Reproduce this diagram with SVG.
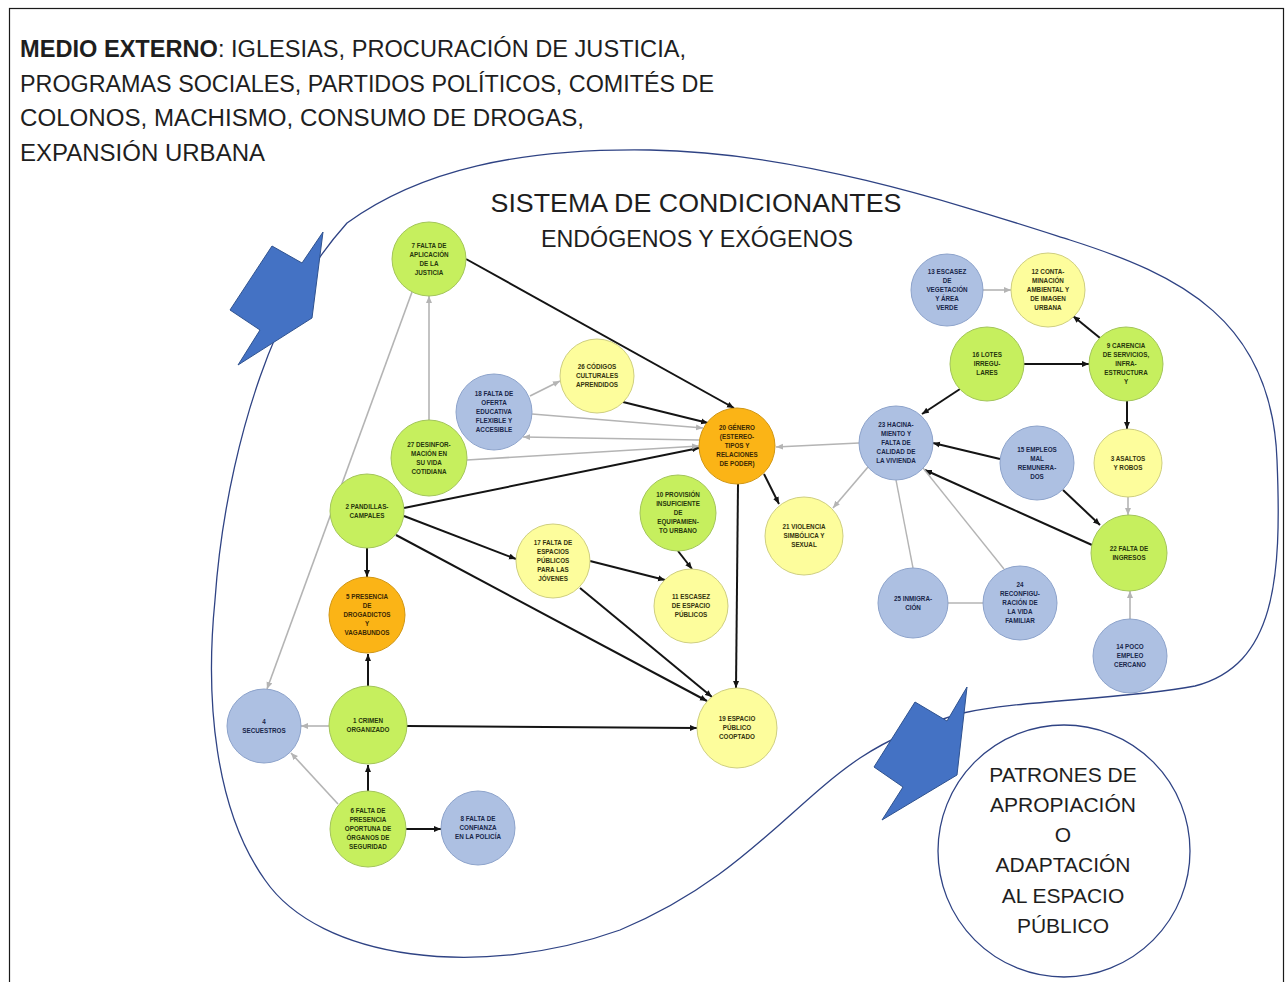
<svg xmlns="http://www.w3.org/2000/svg" width="1287" height="982" viewBox="0 0 1287 982">
<style>
.frame{fill:none;stroke:#1a1a1a;stroke-width:1.2}
.blob{fill:none;stroke:#2f4384;stroke-width:1.3}
.arrowshape{fill:#4472c4;stroke:#2f528f;stroke-width:1}
.big{font-family:"Liberation Sans",Arial,sans-serif;fill:#1e1e1e}
.n circle{stroke-width:1}
.g circle{fill:#c6ef5e;stroke:#a3c55a}
.b circle{fill:#adc0e2;stroke:#8da3cb}
.y circle{fill:#fdfd9c;stroke:#cfcf80}
.o circle{fill:#fbb416;stroke:#d19612}
.n text{font-family:"Liberation Sans",Arial,sans-serif;font-weight:bold;font-size:6.3px;text-anchor:middle}
.g text{fill:#26360c}
.b text{fill:#18264a}
.y text{fill:#34340e}
.o text{fill:#3a2804}
.k{stroke:#141414;stroke-width:2;fill:none;marker-end:url(#ak)}
.s{stroke:#b4b4b4;stroke-width:1.6;fill:none;marker-end:url(#as)}
.sp{stroke:#b4b4b4;stroke-width:1.4;fill:none}
</style>
<defs>
<marker id="ak" markerUnits="userSpaceOnUse" markerWidth="8" markerHeight="7" refX="7" refY="3.5" orient="auto"><path d="M0,0.5 L7,3.5 L0,6.5 z" fill="#141414"/></marker>
<marker id="as" markerUnits="userSpaceOnUse" markerWidth="8" markerHeight="7" refX="7" refY="3.5" orient="auto"><path d="M0,0.5 L7,3.5 L0,6.5 z" fill="#b4b4b4"/></marker>
</defs>
<rect x="0" y="0" width="1287" height="982" fill="#ffffff"/>
<rect class="frame" x="9.5" y="8.5" width="1274" height="990"/>
<g id="header">
<text class="big" x="20" y="57" font-size="23" textLength="666" lengthAdjust="spacingAndGlyphs"><tspan font-weight="bold">MEDIO EXTERNO</tspan>: IGLESIAS, PROCURACIÓN DE JUSTICIA,</text>
<text class="big" x="20" y="92" font-size="23" textLength="694" lengthAdjust="spacingAndGlyphs">PROGRAMAS SOCIALES, PARTIDOS POLÍTICOS, COMITÉS DE</text>
<text class="big" x="20" y="126" font-size="23" textLength="564" lengthAdjust="spacingAndGlyphs">COLONOS, MACHISMO, CONSUMO DE DROGAS,</text>
<text class="big" x="20" y="161" font-size="23" textLength="245" lengthAdjust="spacingAndGlyphs">EXPANSIÓN URBANA</text>
</g>
<path class="blob" d="M 347 223 C 420 170, 520 148, 650 150 C 800 152, 960 205, 1070 240 C 1180 275, 1272 320, 1277 460 C 1282 580, 1275 665, 1195 686 C 1120 700, 1020 700, 963 713 C 930 722, 895 735, 860 758 C 790 805, 740 880, 620 930 C 480 980, 320 960, 265 880 C 215 810, 205 700, 215 600 C 222 500, 245 420, 260 377 C 280 320, 305 270, 347 223 Z"/>
<g id="system-title">
<text class="big" x="696" y="212" font-size="26" text-anchor="middle" textLength="411" lengthAdjust="spacingAndGlyphs">SISTEMA DE CONDICIONANTES</text>
<text class="big" x="697" y="247" font-size="23" text-anchor="middle" textLength="312" lengthAdjust="spacingAndGlyphs">ENDÓGENOS Y EXÓGENOS</text>
</g>
<polygon class="arrowshape" points="323,232 312,318 238,365 260,330 230,310 272,246 302,263"/>
<polygon class="arrowshape" points="967,687 957,775 882,820 903,787 874,767 915,702 947,721"/>
<g id="patrones">
<circle cx="1064" cy="851" r="126" fill="#ffffff" stroke="#2f4384" stroke-width="1.3"/>
<text class="big" font-size="21" text-anchor="middle"><tspan x="1063" y="782">PATRONES DE</tspan><tspan x="1063" y="812">APROPIACIÓN</tspan><tspan x="1063" y="842">O</tspan><tspan x="1063" y="872">ADAPTACIÓN</tspan><tspan x="1063" y="903">AL ESPACIO</tspan><tspan x="1063" y="933">PÚBLICO</tspan></text>
</g>
<g id="connectors">
<line class="k" x1="466" y1="259" x2="734" y2="408"/>
<line class="k" x1="623" y1="402" x2="708" y2="423"/>
<line class="k" x1="404" y1="508" x2="699" y2="448"/>
<line class="k" x1="367" y1="548" x2="367" y2="577"/>
<line class="k" x1="404" y1="516" x2="516" y2="559"/>
<line class="k" x1="396" y1="535" x2="707" y2="701"/>
<line class="k" x1="580" y1="588" x2="712" y2="697"/>
<line class="k" x1="738" y1="484" x2="736" y2="688"/>
<line class="k" x1="764" y1="474" x2="779" y2="504"/>
<line class="k" x1="590" y1="561" x2="665" y2="580"/>
<line class="k" x1="678" y1="551" x2="692" y2="569"/>
<line class="k" x1="368" y1="686" x2="368" y2="654"/>
<line class="k" x1="407" y1="726" x2="697" y2="728"/>
<line class="k" x1="368" y1="791" x2="368" y2="765"/>
<line class="k" x1="406" y1="829" x2="441" y2="829"/>
<line class="k" x1="960" y1="389" x2="922" y2="414"/>
<line class="k" x1="1024" y1="364" x2="1089" y2="364"/>
<line class="k" x1="1100" y1="338" x2="1073" y2="316"/>
<line class="k" x1="1127" y1="401" x2="1127" y2="429"/>
<line class="k" x1="1000" y1="459" x2="933" y2="443"/>
<line class="k" x1="1063" y1="490" x2="1100" y2="525"/>
<line class="k" x1="1092" y1="545" x2="925" y2="470"/>
<line class="s" x1="429" y1="420" x2="429" y2="296"/>
<line class="s" x1="530" y1="396" x2="560" y2="381"/>
<line class="s" x1="532" y1="414" x2="703" y2="428"/>
<line class="s" x1="699" y1="440" x2="523" y2="437"/>
<line class="s" x1="467" y1="460" x2="699" y2="446"/>
<line class="s" x1="412" y1="292" x2="267" y2="689"/>
<line class="s" x1="329" y1="726" x2="301" y2="726"/>
<line class="s" x1="338" y1="804" x2="291" y2="753"/>
<line class="s" x1="983" y1="290" x2="1011" y2="290"/>
<line class="s" x1="859" y1="443" x2="776" y2="447"/>
<line class="s" x1="868" y1="467" x2="833" y2="508"/>
<line class="sp" x1="913" y1="568" x2="896" y2="480"/>
<line class="sp" x1="1004" y1="569" x2="923" y2="468"/>
<line class="sp" x1="948" y1="603" x2="983" y2="603"/>
<line class="s" x1="1130" y1="619" x2="1130" y2="591"/>
<line class="s" x1="1128" y1="497" x2="1128" y2="515"/>
</g>
<g id="n1" class="n g"><circle cx="368" cy="725" r="39"/><text><tspan x="368" y="722.7">1 CRIMEN</tspan><tspan x="368" y="731.7">ORGANIZADO</tspan></text></g>
<g id="n2" class="n g"><circle cx="367" cy="511" r="37"/><text><tspan x="367" y="508.7">2 PANDILLAS-</tspan><tspan x="367" y="517.7">CAMPALES</tspan></text></g>
<g id="n3" class="n y"><circle cx="1128" cy="463" r="34"/><text><tspan x="1128" y="460.7">3 ASALTOS</tspan><tspan x="1128" y="469.7">Y ROBOS</tspan></text></g>
<g id="n4" class="n b"><circle cx="264" cy="726" r="37"/><text><tspan x="264" y="723.7">4</tspan><tspan x="264" y="732.7">SECUESTROS</tspan></text></g>
<g id="n5" class="n o"><circle cx="367" cy="615" r="38"/><text><tspan x="367" y="599.2">5 PRESENCIA</tspan><tspan x="367" y="608.2">DE</tspan><tspan x="367" y="617.2">DROGADICTOS</tspan><tspan x="367" y="626.2">Y</tspan><tspan x="367" y="635.2">VAGABUNDOS</tspan></text></g>
<g id="n6" class="n g"><circle cx="368" cy="829" r="38"/><text><tspan x="368" y="813.2">6 FALTA DE</tspan><tspan x="368" y="822.2">PRESENCIA</tspan><tspan x="368" y="831.2">OPORTUNA DE</tspan><tspan x="368" y="840.2">ÓRGANOS DE</tspan><tspan x="368" y="849.2">SEGURIDAD</tspan></text></g>
<g id="n7" class="n g"><circle cx="429" cy="259" r="37"/><text><tspan x="429" y="247.7">7 FALTA DE</tspan><tspan x="429" y="256.7">APLICACIÓN</tspan><tspan x="429" y="265.7">DE LA</tspan><tspan x="429" y="274.7">JUSTICIA</tspan></text></g>
<g id="n8" class="n b"><circle cx="478" cy="828" r="37"/><text><tspan x="478" y="821.2">8 FALTA DE</tspan><tspan x="478" y="830.2">CONFIANZA</tspan><tspan x="478" y="839.2">EN LA POLICÍA</tspan></text></g>
<g id="n9" class="n g"><circle cx="1126" cy="364" r="37"/><text><tspan x="1126" y="348.2">9 CARENCIA</tspan><tspan x="1126" y="357.2">DE SERVICIOS,</tspan><tspan x="1126" y="366.2">INFRA-</tspan><tspan x="1126" y="375.2">ESTRUCTURA</tspan><tspan x="1126" y="384.2">Y</tspan></text></g>
<g id="n10" class="n g"><circle cx="678" cy="513" r="38"/><text><tspan x="678" y="497.2">10 PROVISIÓN</tspan><tspan x="678" y="506.2">INSUFICIENTE</tspan><tspan x="678" y="515.2">DE</tspan><tspan x="678" y="524.2">EQUIPAMIEN-</tspan><tspan x="678" y="533.2">TO URBANO</tspan></text></g>
<g id="n11" class="n y"><circle cx="691" cy="606" r="37"/><text><tspan x="691" y="599.2">11 ESCASEZ</tspan><tspan x="691" y="608.2">DE ESPACIO</tspan><tspan x="691" y="617.2">PÚBLICOS</tspan></text></g>
<g id="n12" class="n y"><circle cx="1048" cy="290" r="37"/><text><tspan x="1048" y="274.2">12 CONTA-</tspan><tspan x="1048" y="283.2">MINACIÓN</tspan><tspan x="1048" y="292.2">AMBIENTAL Y</tspan><tspan x="1048" y="301.2">DE IMAGEN</tspan><tspan x="1048" y="310.2">URBANA</tspan></text></g>
<g id="n13" class="n b"><circle cx="947" cy="290" r="36"/><text><tspan x="947" y="274.2">13 ESCASEZ</tspan><tspan x="947" y="283.2">DE</tspan><tspan x="947" y="292.2">VEGETACIÓN</tspan><tspan x="947" y="301.2">Y ÁREA</tspan><tspan x="947" y="310.2">VERDE</tspan></text></g>
<g id="n14" class="n b"><circle cx="1130" cy="656" r="37"/><text><tspan x="1130" y="649.2">14 POCO</tspan><tspan x="1130" y="658.2">EMPLEO</tspan><tspan x="1130" y="667.2">CERCANO</tspan></text></g>
<g id="n15" class="n b"><circle cx="1037" cy="463" r="37"/><text><tspan x="1037" y="451.7">15 EMPLEOS</tspan><tspan x="1037" y="460.7">MAL</tspan><tspan x="1037" y="469.7">REMUNERA-</tspan><tspan x="1037" y="478.7">DOS</tspan></text></g>
<g id="n16" class="n g"><circle cx="987" cy="364" r="37"/><text><tspan x="987" y="357.2">16 LOTES</tspan><tspan x="987" y="366.2">IRREGU-</tspan><tspan x="987" y="375.2">LARES</tspan></text></g>
<g id="n17" class="n y"><circle cx="553" cy="561" r="37"/><text><tspan x="553" y="545.2">17 FALTA DE</tspan><tspan x="553" y="554.2">ESPACIOS</tspan><tspan x="553" y="563.2">PÚBLICOS</tspan><tspan x="553" y="572.2">PARA LAS</tspan><tspan x="553" y="581.2">JÓVENES</tspan></text></g>
<g id="n18" class="n b"><circle cx="494" cy="412" r="38"/><text><tspan x="494" y="396.2">18 FALTA DE</tspan><tspan x="494" y="405.2">OFERTA</tspan><tspan x="494" y="414.2">EDUCATIVA</tspan><tspan x="494" y="423.2">FLEXIBLE Y</tspan><tspan x="494" y="432.2">ACCESIBLE</tspan></text></g>
<g id="n19" class="n y"><circle cx="737" cy="728" r="40"/><text><tspan x="737" y="721.2">19 ESPACIO</tspan><tspan x="737" y="730.2">PÚBLICO</tspan><tspan x="737" y="739.2">COOPTADO</tspan></text></g>
<g id="n20" class="n o"><circle cx="737" cy="446" r="38"/><text><tspan x="737" y="430.2">20 GÉNERO</tspan><tspan x="737" y="439.2">(ESTEREO-</tspan><tspan x="737" y="448.2">TIPOS Y</tspan><tspan x="737" y="457.2">RELACIONES</tspan><tspan x="737" y="466.2">DE PODER)</tspan></text></g>
<g id="n21" class="n y"><circle cx="804" cy="536" r="39"/><text><tspan x="804" y="529.2">21 VIOLENCIA</tspan><tspan x="804" y="538.2">SIMBÓLICA Y</tspan><tspan x="804" y="547.2">SEXUAL</tspan></text></g>
<g id="n22" class="n g"><circle cx="1129" cy="553" r="38"/><text><tspan x="1129" y="550.7">22 FALTA DE</tspan><tspan x="1129" y="559.7">INGRESOS</tspan></text></g>
<g id="n23" class="n b"><circle cx="896" cy="443" r="37"/><text><tspan x="896" y="427.2">23 HACINA-</tspan><tspan x="896" y="436.2">MIENTO Y</tspan><tspan x="896" y="445.2">FALTA DE</tspan><tspan x="896" y="454.2">CALIDAD DE</tspan><tspan x="896" y="463.2">LA VIVIENDA</tspan></text></g>
<g id="n24" class="n b"><circle cx="1020" cy="603" r="37"/><text><tspan x="1020" y="587.2">24</tspan><tspan x="1020" y="596.2">RECONFIGU-</tspan><tspan x="1020" y="605.2">RACIÓN DE</tspan><tspan x="1020" y="614.2">LA VIDA</tspan><tspan x="1020" y="623.2">FAMILIAR</tspan></text></g>
<g id="n25" class="n b"><circle cx="913" cy="603" r="35"/><text><tspan x="913" y="600.7">25 INMIGRA-</tspan><tspan x="913" y="609.7">CIÓN</tspan></text></g>
<g id="n26" class="n y"><circle cx="597" cy="376" r="37"/><text><tspan x="597" y="369.2">26 CÓDIGOS</tspan><tspan x="597" y="378.2">CULTURALES</tspan><tspan x="597" y="387.2">APRENDIDOS</tspan></text></g>
<g id="n27" class="n g"><circle cx="429" cy="458" r="38"/><text><tspan x="429" y="446.7">27 DESINFOR-</tspan><tspan x="429" y="455.7">MACIÓN EN</tspan><tspan x="429" y="464.7">SU VIDA</tspan><tspan x="429" y="473.7">COTIDIANA</tspan></text></g>
</svg>
